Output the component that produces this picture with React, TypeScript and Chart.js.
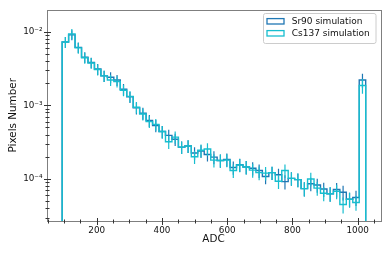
import React, { useEffect, useRef } from "react";
import { Chart, registerables } from "chart.js";

Chart.register(...registerables);

// ADC bin edges (47 bins)
const binEdges = [
  94, 113.8, 133.6, 153.4, 173.2, 193, 212.8, 232.6, 252.4, 272.2, 292, 311.8,
  331.6, 351.4, 371.2, 391, 410.8, 430.6, 450.4, 470.2, 490, 509.8, 529.6, 549.4,
  569.2, 589, 608.8, 628.6, 648.4, 668.2, 688, 707.8, 727.6, 747.4, 767.2, 787,
  806.8, 826.6, 846.4, 866.2, 886, 905.8, 925.6, 945.4, 965.2, 985, 1004.8, 1024.6,
];

const sr90 = [
  0.0072, 0.009, 0.0061, 0.0045, 0.0038, 0.0031, 0.0025, 0.0024, 0.0022, 0.00165,
  0.0013, 0.00092, 0.00078, 0.00062, 0.00053, 0.00044, 0.00039, 0.000345, 0.00027,
  0.00028, 0.000225, 0.00024, 0.000215, 0.000198, 0.000178, 0.000184, 0.000143,
  0.000156, 0.000145, 0.00014, 0.00013, 0.000108, 0.000122, 0.000114, 0.000092,
  0.000102, 0.000098, 0.000074, 0.000086, 0.000083, 0.000073, 0.000063, 0.000072,
  0.000066, 0.000053, 0.000056, 0.0022,
];
const sr90Err = [
  0.0012, 0.0014, 0.001, 0.00075, 0.00062, 0.00052, 0.00043, 0.00041, 0.00038, 0.00029,
  0.00023, 0.00017, 0.000145, 0.000115, 0.0001, 0.000085, 0.000075, 0.000065, 0.000052,
  0.000055, 0.000045, 0.000047, 0.000042, 0.00004, 0.000036, 0.000037, 0.000029,
  0.000032, 0.00003, 0.000029, 0.000027, 0.000023, 0.000025, 0.000024, 0.00002,
  0.000021, 0.000021, 0.000016, 0.000018, 0.000018, 0.000016, 0.000014, 0.000016,
  0.000015, 0.000012, 0.000013, 0.00048,
];

const cs137 = [
  0.0072, 0.0093, 0.006, 0.0044, 0.00375, 0.00305, 0.0025, 0.0022, 0.0021, 0.0016,
  0.00132, 0.00094, 0.00076, 0.0006, 0.00055, 0.00044, 0.00032, 0.00037, 0.00027,
  0.00028, 0.0002, 0.000245, 0.000255, 0.00018, 0.000178, 0.00018, 0.00013,
  0.000155, 0.000145, 0.000132, 0.000122, 0.00012, 0.000122, 0.000093, 0.00013,
  0.000102, 0.000098, 0.000074, 0.0001, 0.000075, 0.000064, 0.000063, 0.000068,
  0.000045, 0.000053, 0.000048, 0.00185,
];
const cs137Err = [
  0.0012, 0.0015, 0.001, 0.00074, 0.00062, 0.00051, 0.00043, 0.00038, 0.00036, 0.00028,
  0.00023, 0.00017, 0.00014, 0.00011, 0.0001, 0.000085, 0.000065, 0.00007, 0.000052,
  0.000055, 0.00004, 0.000048, 0.00005, 0.000037, 0.000036, 0.000036, 0.000027,
  0.000032, 0.00003, 0.000028, 0.000026, 0.000025, 0.000025, 0.00002, 0.000027,
  0.000021, 0.000021, 0.000016, 0.000021, 0.000016, 0.000014, 0.000014, 0.000015,
  0.000011, 0.000012, 0.000011, 0.00042,
];

const seriesNames = ["Sr90 simulation", "Cs137 simulation"];
const seriesColors = ["#1f77b4", "#17becf"];

const xMin = 46;
const xMax = 1070;
const xLabelTicks = [200, 400, 600, 800, 1000];
const yMin = 2.69e-5;
const yMax = 1.99e-2;
const yLabelDecades = [-4, -3, -2];
const yTickLabels = ["10⁻⁴", "10⁻³", "10⁻²"];

const FONT = "'DejaVu Sans', 'Liberation Sans', sans-serif";
const FLOOR = 1e-7;

function stepPoints(values: number[]) {
  const pts: { x: number; y: number }[] = [{ x: binEdges[0], y: FLOOR }];
  values.forEach((v, i) => {
    pts.push({ x: binEdges[i], y: v });
    pts.push({ x: binEdges[i + 1], y: v });
  });
  pts.push({ x: binEdges[values.length], y: FLOOR });
  return pts;
}

const errorSets = [
  { values: sr90, errs: sr90Err, color: seriesColors[0] },
  { values: cs137, errs: cs137Err, color: seriesColors[1] },
];

const decorPlugin = {
  id: "decor",
  afterDatasetDraw(chart: any, args: any) {
    const set = errorSets[args.index];
    if (!set) return;
    const { ctx, chartArea: a, scales } = chart;
    const x = scales.x;
    const y = scales.y;
    ctx.save();
    ctx.beginPath();
    ctx.rect(a.left, a.top, a.right - a.left, a.bottom - a.top);
    ctx.clip();
    ctx.strokeStyle = set.color;
    ctx.lineWidth = 1.2;
    set.values.forEach((v, i) => {
      const c = (binEdges[i] + binEdges[i + 1]) / 2;
      const px = x.getPixelForValue(c);
      const lo = Math.max(v - set.errs[i], 1e-9);
      const hi = v + set.errs[i];
      ctx.beginPath();
      ctx.moveTo(px, y.getPixelForValue(hi));
      ctx.lineTo(px, y.getPixelForValue(lo));
      ctx.stroke();
    });
    ctx.restore();
  },
  afterDraw(chart: any) {
    const { ctx, chartArea: a, scales } = chart;
    const x = scales.x;
    const y = scales.y;
    const L = Math.round(a.left) + 0.5;
    const R = Math.round(a.right) + 0.5;
    const T = Math.round(a.top) + 0.5;
    const B = Math.round(a.bottom) + 0.5;
    ctx.save();
    // spines
    ctx.strokeStyle = "#7f7f7f";
    ctx.lineWidth = 1;
    ctx.strokeRect(L, T, R - L, B - T);
    // ticks
    ctx.strokeStyle = "#333";
    ctx.lineWidth = 1;
    for (let v = 50; v < xMax; v += 50) {
      if (v <= xMin) continue;
      const px = Math.round(x.getPixelForValue(v)) + 0.5;
      const major = v % 200 === 0;
      const h = major ? 3.5 : 2;
      ctx.beginPath();
      ctx.moveTo(px, B - h);
      ctx.lineTo(px, B + h);
      ctx.stroke();
    }
    for (let e = -6; e <= -1; e++) {
      for (let k = 1; k <= 9; k++) {
        const v = k * Math.pow(10, e);
        if (v <= yMin * 1.001 || v >= yMax * 0.999) continue;
        const py = Math.round(y.getPixelForValue(v)) + 0.5;
        const h = k === 1 ? 3.5 : 2;
        ctx.beginPath();
        ctx.moveTo(L - h, py);
        ctx.lineTo(L + h, py);
        ctx.stroke();
      }
    }
    // legend
    const lx = 263.5, ly = 13.5, lw = 112.5, lh = 30;
    ctx.beginPath();
    if ((ctx as any).roundRect) (ctx as any).roundRect(lx, ly, lw, lh, 2);
    else ctx.rect(lx, ly, lw, lh);
    ctx.fillStyle = "rgba(255,255,255,0.8)";
    ctx.fill();
    ctx.strokeStyle = "#cccccc";
    ctx.lineWidth = 1;
    ctx.stroke();
    const rows = [21.3, 33.3];
    seriesNames.forEach((name, i) => {
      ctx.strokeStyle = seriesColors[i];
      ctx.lineWidth = 1.3;
      ctx.strokeRect(267, rows[i] - 2.7, 17, 5.4);
      ctx.fillStyle = "#111";
      ctx.font = `9px ${FONT}`;
      ctx.textAlign = "left";
      ctx.textBaseline = "middle";
      ctx.fillText(name, 291.7, rows[i]);
    });
    ctx.restore();
  },
};

export default function App() {
  const ref = useRef<HTMLCanvasElement>(null);
  useEffect(() => {
    const canvas = ref.current;
    if (!canvas) return;
    const chart = new Chart(canvas, {
      type: "line",
      data: {
        datasets: [
          {
            label: seriesNames[0],
            data: stepPoints(sr90),
            borderColor: seriesColors[0],
            borderWidth: 1.4,
            pointRadius: 0,
            fill: false,
            tension: 0,
            order: 2,
          },
          {
            label: seriesNames[1],
            data: stepPoints(cs137),
            borderColor: seriesColors[1],
            borderWidth: 1.4,
            pointRadius: 0,
            fill: false,
            tension: 0,
            order: 1,
          },
        ],
      },
      options: {
        animation: false,
        responsive: false,
        devicePixelRatio: 1,
        events: [],
        layout: { padding: { left: 0, right: 9.5, top: 9.5, bottom: 0 } },
        plugins: { legend: { display: false }, tooltip: { enabled: false } },
        scales: {
          x: {
            type: "linear",
            min: xMin,
            max: xMax,
            grid: { display: false, drawTicks: false, tickLength: 0 },
            border: { display: false },
            afterFit: (s: any) => {
              s.height = 35;
            },
            ticks: {
              stepSize: 50,
              includeBounds: false,
              autoSkip: false,
              maxRotation: 0,
              padding: 4,
              color: "#111",
              font: { family: FONT, size: 8.8 },
              callback: (v: any) => (xLabelTicks.includes(Number(v)) ? String(v) : ""),
            },
            title: {
              display: true,
              text: "ADC",
              color: "#111",
              font: { family: FONT, size: 10.4 },
              padding: { top: 0, bottom: 10.5 },
            },
          },
          y: {
            type: "logarithmic",
            min: yMin,
            max: yMax,
            grid: { display: false, drawTicks: false, tickLength: 0 },
            border: { display: false },
            afterFit: (s: any) => {
              s.width = 46.5;
            },
            ticks: {
              autoSkip: false,
              padding: 4,
              color: "#111",
              font: { family: FONT, size: 8.8 },
              callback: (v: any) => {
                const e = Math.log10(Number(v));
                const r = Math.round(e);
                if (Math.abs(e - r) > 1e-6) return "";
                const idx = yLabelDecades.indexOf(r);
                return idx >= 0 ? yTickLabels[idx] : "";
              },
            },
            title: {
              display: true,
              text: "Pixels Number",
              color: "#111",
              font: { family: FONT, size: 10.4 },
              padding: { top: 7.5, bottom: 0 },
            },
          },
        },
      },
      plugins: [decorPlugin],
    } as any);
    return () => chart.destroy();
  }, []);
  return (
    <div style={{ position: "fixed", left: 0, top: 0, width: 390, height: 256, background: "#fff" }}>
      <canvas ref={ref} width={390} height={256} style={{ width: 390, height: 256, display: "block" }} />
    </div>
  );
}
